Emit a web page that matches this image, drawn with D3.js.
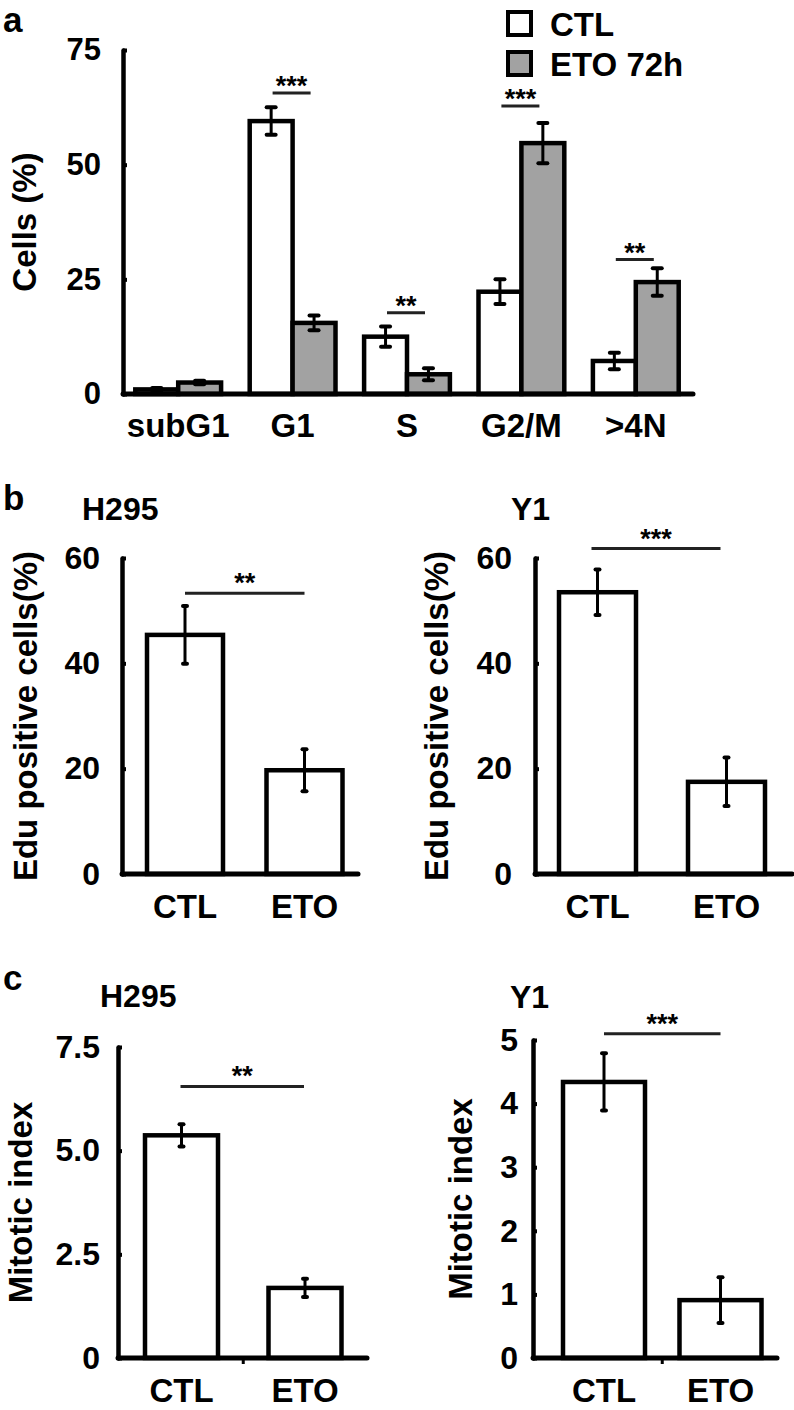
<!DOCTYPE html>
<html><head><meta charset="utf-8">
<script src="https://cdn.jsdelivr.net/npm/d3@7"></script>
<style>
body{margin:0;background:#fff}
svg{display:block}
text{font-family:"Liberation Sans",Arial,Helvetica,sans-serif;font-weight:bold;fill:#000}
</style>
</head><body>
<script>
// ---------- DATA ----------
const phases = ["subG1", "G1", "S", "G2/M", ">4N"];
const series = ["CTL", "ETO 72h"];
const ctlCells = [1.0, 59.5, 12.5, 22.3, 7.2];
const ctlCellsErr = [0.3, 3.0, 2.2, 2.7, 1.8];
const etoCells = [2.5, 15.5, 4.3, 54.7, 24.4];
const etoCellsErr = [0.4, 1.6, 1.3, 4.4, 3.0];
const cellSigText = ["", "***", "**", "***", "**"];
const cellSigLevel = [null, 65.6, 17.7, 62.8, 29.3];
const cellTicks = [0, 25, 50, 75];

const groups = ["CTL", "ETO"];
const eduH295 = [45.4, 19.7];
const eduH295Err = [5.5, 4.0];
const eduY1 = [53.5, 17.5];
const eduY1Err = [4.3, 4.6];
const eduTicks = [0, 20, 40, 60];

const mitH295 = [5.37, 1.69];
const mitH295Err = [0.27, 0.22];
const mitH295Ticks = [0, 2.5, 5.0, 7.5];
const mitY1 = [4.34, 0.91];
const mitY1Err = [0.45, 0.36];
const mitY1Ticks = [0, 1, 2, 3, 4, 5];

// ---------- DRAW ----------
const W = 794, H = 1410;
const GRAY = "#a2a2a2";
const svg = d3.select("body").append("svg").attr("width", W).attr("height", H);

function yAxis(g, y, ticks, fmt, pad, fs) {
  const ax = d3.axisLeft(y).tickValues(ticks).tickSizeInner(-4).tickSizeOuter(0).tickPadding(pad).tickFormat(fmt);
  g.call(ax);
  g.select(".domain").attr("stroke", "#000").attr("stroke-width", 4.5).attr("stroke-linecap", "round");
  g.selectAll(".tick line").attr("stroke", "#000").attr("stroke-width", 4);
  g.selectAll(".tick text").attr("font-size", fs).attr("font-family", "Liberation Sans, Arial, sans-serif")
    .attr("font-weight", "bold").attr("fill", "#000");
}

function errBar(g, cx, y, v, e, capW, sw) {
  g.append("line").attr("x1", cx).attr("x2", cx).attr("y1", y(v + e)).attr("y2", y(v - e))
    .attr("stroke", "#000").attr("stroke-width", sw);
  [v + e, v - e].forEach(t => {
    g.append("line").attr("x1", cx - capW / 2).attr("x2", cx + capW / 2).attr("y1", y(t)).attr("y2", y(t))
      .attr("stroke", "#000").attr("stroke-width", sw + 1).attr("stroke-linecap", "round");
  });
}

// ----- Panel a -----
(function () {
  const g = svg.append("g");
  const axisX = 123, axisEnd = 693;
  const y = d3.scaleLinear().domain([0, 75]).range([394, 50]);
  const x = d3.scaleBand().domain(phases).range([121, 693]).paddingInner(0.25).paddingOuter(0.125);
  const xs = d3.scaleBand().domain(series).range([0, x.bandwidth()]);
  const vals = [ctlCells, etoCells], errs = [ctlCellsErr, etoCellsErr], fills = ["#fff", GRAY];

  phases.forEach((p, i) => {
    series.forEach((s, j) => {
      g.append("rect").attr("x", x(p) + xs(s)).attr("y", y(vals[j][i]))
        .attr("width", xs.bandwidth()).attr("height", y(0) - y(vals[j][i]))
        .attr("fill", fills[j]).attr("stroke", "#000").attr("stroke-width", 4.5);
    });
  });
  phases.forEach((p, i) => {
    series.forEach((s, j) => {
      errBar(g, x(p) + xs(s) + xs.bandwidth() / 2, y, vals[j][i], errs[j][i], 9, 3);
    });
    if (cellSigText[i]) {
      const cx = x(p) + x.bandwidth() / 2 - 1;
      g.append("line").attr("x1", cx - 19).attr("x2", cx + 19)
        .attr("y1", y(cellSigLevel[i])).attr("y2", y(cellSigLevel[i]))
        .attr("stroke", "#222").attr("stroke-width", 3);
      g.append("text").attr("x", cx).attr("y", y(cellSigLevel[i]) + 2).attr("text-anchor", "middle")
        .attr("font-size", 27).attr("fill", "#222").text(cellSigText[i]);
    }
  });
  // x axis baseline
  g.append("line").attr("x1", axisX).attr("x2", axisEnd).attr("y1", y(0)).attr("y2", y(0))
    .attr("stroke", "#000").attr("stroke-width", 5).attr("stroke-linecap", "round");
  const ay = g.append("g").attr("transform", `translate(${axisX},0)`);
  yAxis(ay, y, cellTicks, d3.format("d"), 22, 31);

  phases.forEach(p => {
    g.append("text").attr("x", x(p) + x.bandwidth() / 2).attr("y", 437).attr("text-anchor", "middle")
      .attr("font-size", 33).text(p);
  });
  g.append("text").attr("transform", `translate(36,${(y(0) + y(75)) / 2}) rotate(-90)`)
    .attr("text-anchor", "middle").attr("font-size", 33).text("Cells (%)");
  g.append("text").attr("x", 3).attr("y", 32).attr("font-size", 35).text("a");

  // legend
  series.forEach((s, j) => {
    const ly = 12 + j * 40;
    g.append("rect").attr("x", 508).attr("y", ly).attr("width", 23).attr("height", 23)
      .attr("fill", fills[j]).attr("stroke", "#000").attr("stroke-width", 4);
    g.append("text").attr("x", 550).attr("y", ly + 24).attr("font-size", 33).text(s);
  });
})();

// ----- simple two-bar panels -----
function simplePanel(o) {
  const g = svg.append("g");
  const top = o.ticks[o.ticks.length - 1];
  const y = d3.scaleLinear().domain([0, top]).range([o.y0, o.yTop]);
  const p = 1 - o.bw / o.step;
  const x = d3.scaleBand().domain(groups)
    .range([o.c0 - o.step / 2, o.c0 - o.step / 2 + o.step * groups.length])
    .paddingInner(p).paddingOuter(p / 2);

  groups.forEach((k, i) => {
    g.append("rect").attr("x", x(k)).attr("y", y(o.values[i])).attr("width", x.bandwidth())
      .attr("height", y(0) - y(o.values[i])).attr("fill", "#fff").attr("stroke", "#000").attr("stroke-width", 4.5);
  });
  groups.forEach((k, i) => {
    errBar(g, x(k) + x.bandwidth() / 2, y, o.values[i], o.errs[i], 4, 3);
  });
  // significance
  const c1 = x(groups[0]) + x.bandwidth() / 2, c2 = x(groups[1]) + x.bandwidth() / 2;
  g.append("line").attr("x1", c1 + o.sigShift).attr("x2", c2 + o.sigShift)
    .attr("y1", y(o.sigLevel)).attr("y2", y(o.sigLevel)).attr("stroke", "#222").attr("stroke-width", 3);
  g.append("text").attr("x", (c1 + c2) / 2 + o.sigShift).attr("y", y(o.sigLevel) - 1).attr("text-anchor", "middle")
    .attr("font-size", 27).attr("fill", "#222").text(o.sigText);

  g.append("line").attr("x1", o.axisX).attr("x2", o.axisEnd).attr("y1", y(0)).attr("y2", y(0))
    .attr("stroke", "#000").attr("stroke-width", 5).attr("stroke-linecap", "round");
  if (o.midTick) {
    g.append("line").attr("x1", (c1 + c2) / 2).attr("x2", (c1 + c2) / 2).attr("y1", y(0)).attr("y2", y(0) + 6)
      .attr("stroke", "#000").attr("stroke-width", 3);
  }
  const ay = g.append("g").attr("transform", `translate(${o.axisX},0)`);
  yAxis(ay, y, o.ticks, o.fmt, o.tickPad, 32);

  groups.forEach(k => {
    g.append("text").attr("x", x(k) + x.bandwidth() / 2).attr("y", o.y0 + 44).attr("text-anchor", "middle")
      .attr("font-size", 33).text(k);
  });
  g.append("text").attr("transform", `translate(${o.titleX},${(o.y0 + o.yTop) / 2}) rotate(-90)`)
    .attr("text-anchor", "middle").attr("font-size", 33).text(o.yTitle);
  g.append("text").attr("x", o.nameX).attr("y", o.nameY).attr("font-size", 32).text(o.name);
  if (o.letter) g.append("text").attr("x", 3).attr("y", o.letterY).attr("font-size", 35).text(o.letter);
}

const fmtInt = d3.format("d");
const fmtDec = d => d === 0 ? "0" : d3.format(".1f")(d);

simplePanel({ values: eduH295, errs: eduH295Err, ticks: eduTicks, fmt: fmtInt,
  y0: 874, yTop: 558, axisX: 122, axisEnd: 358, c0: 185, step: 119.5, bw: 76, tickPad: 22,
  sigLevel: 53.3, sigText: "**", sigShift: 0, yTitle: "Edu positive cells(%)", titleX: 37,
  name: "H295", nameX: 82, nameY: 520, letter: "b", letterY: 510, midTick: false });

simplePanel({ values: eduY1, errs: eduY1Err, ticks: eduTicks, fmt: fmtInt,
  y0: 874, yTop: 558, axisX: 535, axisEnd: 792, c0: 597.5, step: 129, bw: 77, tickPad: 23,
  sigLevel: 61.8, sigText: "***", sigShift: -6, yTitle: "Edu positive cells(%)", titleX: 448,
  name: "Y1", nameX: 511, nameY: 520, letter: null, midTick: false });

simplePanel({ values: mitH295, errs: mitH295Err, ticks: mitH295Ticks, fmt: fmtDec,
  y0: 1358, yTop: 1047, axisX: 118, axisEnd: 367, c0: 181.5, step: 123.5, bw: 73, tickPad: 18,
  sigLevel: 6.55, sigText: "**", sigShift: -1, yTitle: "Mitotic index", titleX: 32,
  name: "H295", nameX: 100, nameY: 1007, letter: "c", letterY: 990, midTick: true });

simplePanel({ values: mitY1, errs: mitY1Err, ticks: mitY1Ticks, fmt: fmtInt,
  y0: 1358, yTop: 1040, axisX: 533, axisEnd: 777, c0: 604, step: 116.5, bw: 82, tickPad: 15,
  sigLevel: 5.1, sigText: "***", sigShift: 0, yTitle: "Mitotic index", titleX: 472,
  name: "Y1", nameX: 510, nameY: 1008, letter: null, midTick: true });
</script>
</body></html>
